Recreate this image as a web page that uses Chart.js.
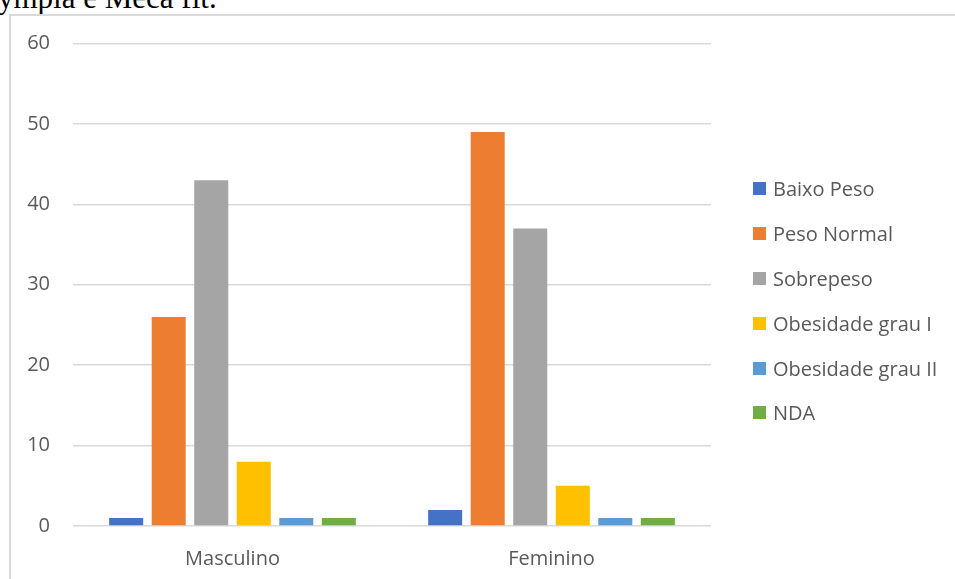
<!DOCTYPE html>
<html>
<head>
<meta charset="utf-8">
<script src="https://cdn.jsdelivr.net/npm/chart.js@4"></script>
<style>
  html,body{margin:0;padding:0;background:#fff;overflow:hidden;}
  body{width:955px;height:579px;position:relative;}
  #cap{position:absolute;left:-2px;top:-20px;font-family:"Liberation Serif","Times New Roman",serif;font-size:31px;color:#000;white-space:nowrap;line-height:normal;}
  #frame{position:absolute;left:9px;top:14px;width:1000px;height:700px;border:2px solid #d9d9d9;box-sizing:border-box;}
  #wrap{position:absolute;left:0;top:0;width:955px;height:579px;}
  #legend{position:absolute;left:753px;top:166.5px;font-family:"Open Sans",sans-serif;font-size:20px;color:#595959;}
  #legend div{height:44.8px;display:flex;align-items:center;white-space:nowrap;}
  #legend span.sw{display:inline-block;width:13px;height:13px;margin-right:7px;}
</style>
</head>
<body>
<div id="cap">ympia e Meca fit.</div>
<div id="frame"></div>
<div id="wrap"><canvas id="c" width="955" height="579"></canvas></div>
<div id="legend"></div>
<script>
// Categories (sex) and one series per BMI class
const CATEGORIES = ['Masculino', 'Feminino'];
const SERIES_NAMES = ['Baixo Peso', 'Peso Normal', 'Sobrepeso', 'Obesidade grau I', 'Obesidade grau II', 'NDA'];
const SERIES_COLORS = ['#4472C4', '#ED7D31', '#A5A5A5', '#FFC000', '#5B9BD5', '#70AD47'];
const BAIXO_PESO = [1, 2];
const PESO_NORMAL = [26, 49];
const SOBREPESO = [43, 37];
const OBESIDADE_I = [8, 5];
const OBESIDADE_II = [1, 1];
const NDA = [1, 1];
const Y_TICKS = [0, 10, 20, 30, 40, 50, 60];

const VALUES = [BAIXO_PESO, PESO_NORMAL, SOBREPESO, OBESIDADE_I, OBESIDADE_II, NDA];
const TXT = '#595959';
const FONT = '"Open Sans", sans-serif';

const datasets = SERIES_NAMES.map((name, i) => ({
  label: name,
  data: VALUES[i],
  backgroundColor: SERIES_COLORS[i],
  borderWidth: 0,
  categoryPercentage: 0.8,
  barPercentage: 0.8
}));

new Chart(document.getElementById('c'), {
  type: 'bar',
  data: {labels: CATEGORIES, datasets},
  options: {
    responsive: false,
    animation: false,
    layout: {padding: {top: 43.5, right: 244, bottom: 10, left: 0}},
    plugins: {legend: {display: false}, tooltip: {enabled: false}},
    scales: {
      x: {
        afterFit(s){ s.height = 43; },
        grid: {display: false, drawTicks: false},
        border: {display: false},
        ticks: {color: TXT, font: {family: FONT, size: 20}, padding: 21, maxRotation: 0}
      },
      y: {
        min: Y_TICKS[0], max: Y_TICKS[Y_TICKS.length - 1],
        afterFit(s){ s.width = 73; },
        afterBuildTicks(s){ s.ticks = Y_TICKS.map(v => ({value: v})); },
        grid: {color: '#d9d9d9', lineWidth: 1.5, drawTicks: false},
        border: {display: false},
        ticks: {color: TXT, font: {family: FONT, size: 20}, padding: 23}
      }
    }
  }
});

// legend built from the same series arrays
const lg = document.getElementById('legend');
SERIES_NAMES.forEach((name, i) => {
  const row = document.createElement('div');
  row.innerHTML = `<span class="sw" style="background:${SERIES_COLORS[i]}"></span>${name}`;
  lg.appendChild(row);
});
</script>
</body>
</html>
